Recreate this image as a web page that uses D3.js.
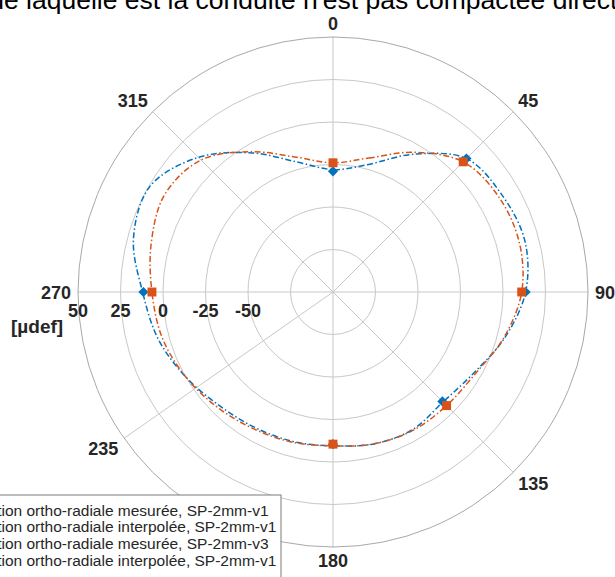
<!DOCTYPE html>
<html><head><meta charset="utf-8">
<script src="https://cdn.jsdelivr.net/npm/d3@7"></script>
<style>body{margin:0;background:#fff} svg{display:block} text{font-family:"Liberation Sans",Arial,Helvetica,sans-serif}</style>
</head><body>
<svg id="c" width="615" height="577"></svg>
<script>
// ---- data ----
const thetaTicks = [0, 45, 90, 135, 180, 235, 270, 315];
const rTickValues = [50, 25, 0, -25, -50];
const rGridValues = [-75, -50, -25, 0, 25, 50];
const rLimits = [-100, 50];
const rUnit = "[µdef]";
const titleHidden = "Déformation ortho-radiale au niveau de la section d";
const titleVisible = "e laquelle est la conduite n'est pas compactée directement";
const legendLabels = [
  "Déformation ortho-radiale mesurée, SP-2mm-v1",
  "Déformation ortho-radiale interpolée, SP-2mm-v1",
  "Déformation ortho-radiale mesurée, SP-2mm-v3",
  "Déformation ortho-radiale interpolée, SP-2mm-v1"
];
const measAngles = [0, 45, 90, 135, 180, 270];
const measV1 = [-29, 11, 13.3, -9, -10.5, 11.5];
const measV3 = [-24, 8.3, 11, -5.5, -10.5, 6.5];
const interpAngles = [0, 15, 30, 45, 60, 75, 90, 105, 120, 135, 150, 165, 180, 195, 210, 225, 240, 255, 270, 285, 300, 315, 330, 345];
const interpV1 = [-28, -22.5, -6.5, 11, 14.6, 16.8, 13.3, 4.5, -4.5, -8.5, -6.5, -7.5, -9.5, -9, -8, -5.5, 0, 6.5, 12, 21.5, 24.3, 12, -5.6, -21];
const interpV3 = [-24, -18.4, -5.1, 8.3, 12.4, 13.4, 11, 4, -3.5, -5.5, -6, -7.5, -9.5, -8.5, -7, -4, 0, 4, 6.5, 10.7, 14.4, 9.8, -4.7, -18];

// ---- layout ----
const cx = 333, cy = 292, R = 255;
const blue = "#0072BD", orange = "#D95319";
const svg = d3.select("#c");
const r = d3.scaleLinear().domain(rLimits).range([0, R]);
const rad = d => d * Math.PI / 180;
const px = (a, v) => cx + r(v) * Math.sin(rad(a));
const py = (a, v) => cy - r(v) * Math.cos(rad(a));

// title
const tt = svg.append("text").attr("y", 9).attr("font-size", 26.5).attr("fill", "#000");
const t1 = tt.append("tspan").text(titleHidden);
tt.append("tspan").text(titleVisible);
tt.attr("x", 4 - t1.node().getComputedTextLength());

// grid
const g = svg.append("g");
g.selectAll("circle.grid").data(rGridValues.slice(0, -1)).join("circle")
  .attr("cx", cx).attr("cy", cy).attr("r", d => r(d))
  .attr("fill", "none").attr("stroke", "#c8c8c8").attr("stroke-width", 1);
g.selectAll("line.spoke").data(thetaTicks).join("line")
  .attr("x1", cx).attr("y1", cy)
  .attr("x2", d => px(d, rLimits[1])).attr("y2", d => py(d, rLimits[1]))
  .attr("stroke", "#c8c8c8").attr("stroke-width", 1);
g.append("circle").attr("cx", cx).attr("cy", cy).attr("r", r(rLimits[1]))
  .attr("fill", "none").attr("stroke", "#a8a8a8").attr("stroke-width", 1);

// theta labels
thetaTicks.forEach(a => {
  const s = Math.sin(rad(a)), c = Math.cos(rad(a));
  const x = cx + (R + 7) * s, y = cy - (R + 7) * c;
  const anchor = s > 0.1 ? "start" : (s < -0.1 ? "end" : "middle");
  const by = c > 0.1 ? y : (c < -0.1 ? y + 13 : y + 6.5);
  svg.append("text").attr("x", x).attr("y", by).attr("text-anchor", anchor)
    .attr("font-size", 18).attr("font-weight", "bold").attr("fill", "#262626").text(a);
});

// radial labels
rTickValues.forEach(v => {
  svg.append("text").attr("x", cx - r(v)).attr("y", 317).attr("text-anchor", "middle")
    .attr("font-size", 18).attr("font-weight", "bold").attr("fill", "#262626").text(v);
});
svg.append("text").attr("x", 11).attr("y", 333).attr("text-anchor", "start")
  .attr("font-size", 19).attr("font-weight", "bold").attr("fill", "#262626").text(rUnit);

// curves
const line = d3.lineRadial().angle(d => rad(d[0])).radius(d => r(d[1])).curve(d3.curveCatmullRomClosed.alpha(0.5));
const cg = svg.append("g").attr("transform", `translate(${cx},${cy})`);
cg.append("path").attr("d", line(interpAngles.map((a, i) => [a, interpV1[i]])))
  .attr("fill", "none").attr("stroke", blue).attr("stroke-width", 1.5).attr("stroke-dasharray", "6,2.5,1.5,2.5");
cg.append("path").attr("d", line(interpAngles.map((a, i) => [a, interpV3[i]])))
  .attr("fill", "none").attr("stroke", orange).attr("stroke-width", 1.5).attr("stroke-dasharray", "6,2.5,1.5,2.5");

// markers
const diamond = d3.symbol(d3.symbolSquare, 52);
const square = d3.symbol(d3.symbolSquare, 80);
svg.selectAll("path.m1").data(measAngles.map((a, i) => [a, measV1[i]])).join("path")
  .attr("d", diamond).attr("fill", blue)
  .attr("transform", d => `translate(${px(d[0], d[1])},${py(d[0], d[1])}) rotate(45)`);
svg.selectAll("path.m3").data(measAngles.map((a, i) => [a, measV3[i]])).join("path")
  .attr("d", square).attr("fill", orange)
  .attr("transform", d => `translate(${px(d[0], d[1])},${py(d[0], d[1])})`);

// legend
const lg = svg.append("g");
lg.append("rect").attr("x", -120).attr("y", 495).attr("width", 401).attr("height", 120)
  .attr("fill", "#fff").attr("stroke", "#7a7a7a").attr("stroke-width", 1);
legendLabels.forEach((lab, i) => {
  const t = lg.append("text").attr("y", 515.5 + i * 16.7).attr("font-size", 15.5).attr("fill", "#262626");
  const pre = t.append("tspan").text(lab.slice(0, 8));
  t.append("tspan").text(lab.slice(8));
  const x0 = 1.5 - pre.node().getComputedTextLength();
  t.attr("x", x0);
});
</script></body></html>
